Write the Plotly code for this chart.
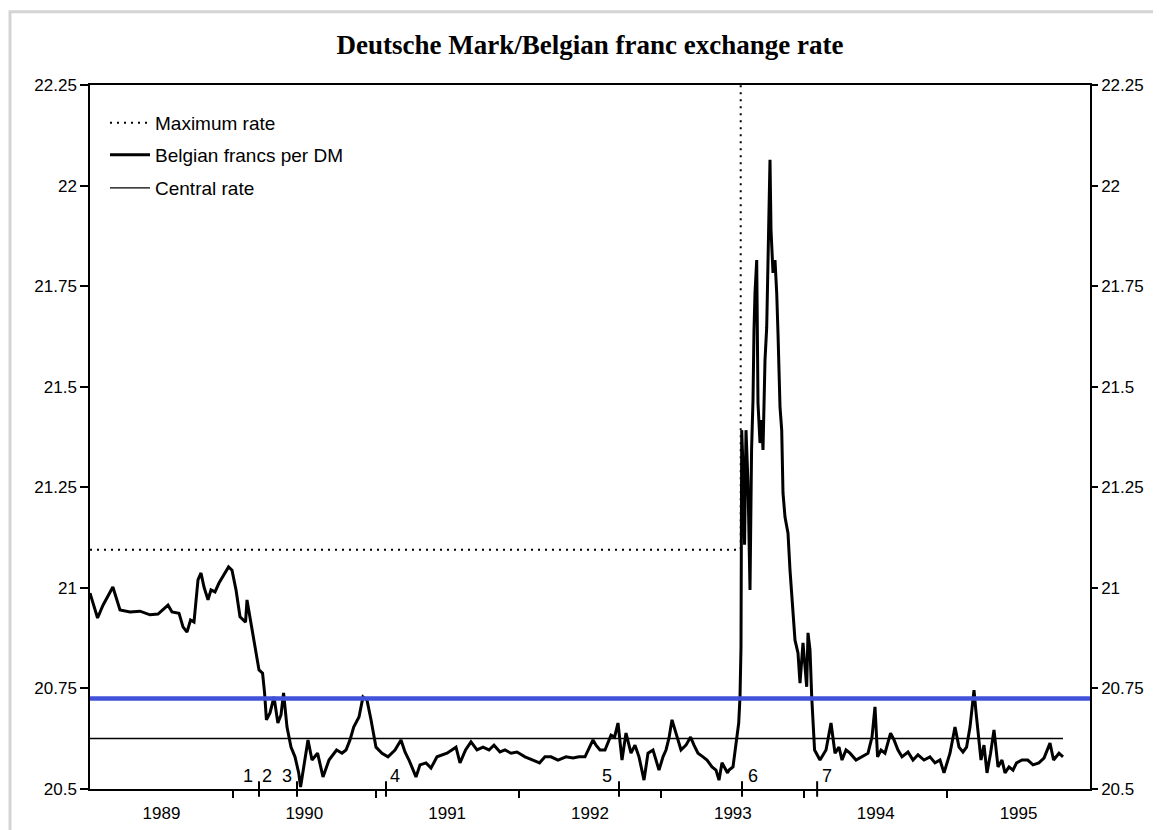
import plotly.graph_objects as go

# ---------------- data ----------------
TITLE = "Deutsche Mark/Belgian franc exchange rate"

date = [
    1989.000, 1989.053, 1989.091, 1989.160, 1989.210, 1989.280, 1989.350, 1989.385, 1989.420, 1989.476,
    1989.546, 1989.574, 1989.623, 1989.651, 1989.679, 1989.704, 1989.728, 1989.756, 1989.777, 1989.798,
    1989.826, 1989.847, 1989.875, 1989.903, 1989.938, 1989.970, 1989.994, 1990.022, 1990.050, 1990.089,
    1990.099, 1990.127, 1990.155, 1990.183, 1990.208, 1990.222, 1990.235, 1990.260, 1990.288, 1990.315,
    1990.337, 1990.355, 1990.379, 1990.407, 1990.435, 1990.461, 1990.474, 1990.498, 1990.526, 1990.554,
    1990.593, 1990.631, 1990.673, 1990.726, 1990.764, 1990.792, 1990.820, 1990.846, 1990.883, 1990.911,
    1990.939, 1990.967, 1991.002, 1991.044, 1991.086, 1991.135, 1991.177, 1991.205, 1991.233, 1991.282,
    1991.310, 1991.352, 1991.387, 1991.429, 1991.499, 1991.562, 1991.590, 1991.629, 1991.667, 1991.709,
    1991.751, 1991.793, 1991.828, 1991.870, 1991.905, 1991.947, 1991.989, 1992.045, 1992.094, 1992.147,
    1992.185, 1992.227, 1992.276, 1992.332, 1992.381, 1992.423, 1992.465, 1992.500, 1992.521, 1992.542,
    1992.570, 1992.605, 1992.647, 1992.672, 1992.696, 1992.724, 1992.752, 1992.787, 1992.815, 1992.843,
    1992.878, 1992.906, 1992.941, 1992.983, 1993.011, 1993.032, 1993.053, 1993.074, 1993.102, 1993.137,
    1993.172, 1993.204, 1993.228, 1993.256, 1993.291, 1993.319, 1993.354, 1993.382, 1993.403, 1993.424,
    1993.463, 1993.473, 1993.501, 1993.515, 1993.541, 1993.550, 1993.557, 1993.562, 1993.571, 1993.582,
    1993.592, 1993.606, 1993.620, 1993.631, 1993.641, 1993.648, 1993.655, 1993.667, 1993.673, 1993.676,
    1993.690, 1993.702, 1993.711, 1993.725, 1993.737, 1993.746, 1993.753, 1993.760, 1993.767, 1993.772,
    1993.781, 1993.795, 1993.807, 1993.816, 1993.830, 1993.842, 1993.851, 1993.865, 1993.886, 1993.900,
    1993.921, 1993.935, 1993.956, 1993.970, 1993.991, 1994.017, 1994.026, 1994.040, 1994.052, 1994.061,
    1994.072, 1994.110, 1994.152, 1994.187, 1994.215, 1994.243, 1994.264, 1994.292, 1994.320, 1994.362,
    1994.397, 1994.446, 1994.474, 1994.495, 1994.513, 1994.537, 1994.565, 1994.604, 1994.628, 1994.656,
    1994.684, 1994.726, 1994.761, 1994.796, 1994.838, 1994.880, 1994.915, 1994.950, 1994.978, 1995.020,
    1995.055, 1995.083, 1995.111, 1995.136, 1995.160, 1995.174, 1995.188, 1995.202, 1995.213, 1995.237,
    1995.258, 1995.279, 1995.304, 1995.328, 1995.356, 1995.384, 1995.405, 1995.433, 1995.461, 1995.486,
    1995.524, 1995.564, 1995.601, 1995.642, 1995.678, 1995.720, 1995.745, 1995.783, 1995.811,
]

bef_per_dm = [
    20.987, 20.925, 20.957, 21.002, 20.945, 20.940, 20.942, 20.937, 20.933, 20.935,
    20.957, 20.940, 20.937, 20.903, 20.890, 20.920, 20.915, 21.020, 21.037, 21.002,
    20.970, 20.995, 20.990, 21.012, 21.032, 21.052, 21.044, 20.995, 20.928, 20.915,
    20.970, 20.913, 20.846, 20.796, 20.788, 20.739, 20.672, 20.689, 20.729, 20.664,
    20.684, 20.739, 20.654, 20.604, 20.580, 20.540, 20.505, 20.555, 20.622, 20.572,
    20.589, 20.530, 20.572, 20.597, 20.589, 20.597, 20.622, 20.654, 20.679, 20.729,
    20.721, 20.672, 20.604, 20.589, 20.580, 20.597, 20.622, 20.592, 20.572, 20.530,
    20.560, 20.565, 20.552, 20.580, 20.589, 20.604, 20.565, 20.597, 20.617, 20.597,
    20.604, 20.597, 20.609, 20.592, 20.597, 20.589, 20.592, 20.580, 20.572, 20.565,
    20.580, 20.580, 20.572, 20.580, 20.577, 20.580, 20.580, 20.604, 20.622, 20.609,
    20.597, 20.597, 20.634, 20.629, 20.664, 20.572, 20.639, 20.589, 20.609, 20.580,
    20.522, 20.589, 20.597, 20.547, 20.580, 20.597, 20.627, 20.672, 20.639, 20.597,
    20.609, 20.629, 20.609, 20.589, 20.580, 20.572, 20.555, 20.547, 20.522, 20.565,
    20.540, 20.547, 20.555, 20.589, 20.664, 20.729, 20.853, 21.392, 21.300, 21.107,
    21.392, 21.261, 20.995, 21.343, 21.467, 21.641, 21.733, 21.815, 21.591, 21.459,
    21.360, 21.417, 21.343, 21.566, 21.648, 21.840, 21.989, 22.064, 21.890, 21.847,
    21.783, 21.815, 21.733, 21.633, 21.450, 21.392, 21.236, 21.176, 21.136, 21.044,
    20.952, 20.870, 20.838, 20.763, 20.863, 20.754, 20.888, 20.846, 20.729, 20.672,
    20.597, 20.572, 20.597, 20.664, 20.589, 20.604, 20.572, 20.597, 20.589, 20.572,
    20.580, 20.589, 20.629, 20.704, 20.580, 20.597, 20.589, 20.639, 20.622, 20.597,
    20.580, 20.592, 20.572, 20.585, 20.572, 20.580, 20.565, 20.572, 20.540, 20.589,
    20.654, 20.604, 20.592, 20.604, 20.654, 20.704, 20.746, 20.691, 20.654, 20.572,
    20.609, 20.540, 20.589, 20.647, 20.555, 20.572, 20.540, 20.555, 20.547, 20.565,
    20.572, 20.572, 20.560, 20.565, 20.577, 20.614, 20.572, 20.589, 20.580,
]

central_rate = 20.6255
central_span = [1989.0, 1995.811]

max_rate = 21.095
max_rate_end = 1993.555         # band widened: dotted line turns upward here
axis_top = 22.25

blue_level = 20.725
blue_span = [1989.0, 1996.0]

event_labels = ["1", "2", "3", "4", "5", "6", "7"]
event_label_x = [1990.106, 1990.239, 1990.378, 1991.135, 1992.619, 1993.641, 1994.159]
event_tick_x = [1990.183, 1990.449, 1991.072, 1992.703, 1993.564, 1994.090]
event_label_y = 20.533

year_labels = ["1989", "1990", "1991", "1992", "1993", "1994", "1995"]
year_mid = [1989.5, 1990.5, 1991.5, 1992.5, 1993.5, 1994.5, 1995.5]
year_bounds = [1990, 1991, 1992, 1993, 1994, 1995]

y_ticks = [20.5, 20.75, 21.0, 21.25, 21.5, 21.75, 22.0, 22.25]
y_ticktext = ["20.5", "20.75", "21", "21.25", "21.5", "21.75", "22", "22.25"]

# ---------------- figure ----------------
SANS = "Liberation Sans, Arial, Helvetica, sans-serif"
SERIF = "Liberation Serif, Times New Roman, serif"

W, H = 1145, 822          # page body has an 8px margin
ML, MT = 82, 77
PW, PH = 1000, 704

fig = go.Figure()

fig.add_trace(go.Scatter(
    x=[central_span[0], max_rate_end, max_rate_end],
    y=[max_rate, max_rate, axis_top],
    mode="lines", name="Maximum rate",
    line=dict(color="black", width=2, dash="2px,5px"),
    legend="legend", hoverinfo="skip",
))
fig.add_trace(go.Scatter(
    x=date, y=bef_per_dm, mode="lines", name="Belgian francs per DM",
    line=dict(color="black", width=3), legend="legend2",
))
fig.add_trace(go.Scatter(
    x=central_span, y=[central_rate, central_rate], mode="lines", name="Central rate",
    line=dict(color="black", width=1.4), legend="legend3", hoverinfo="skip",
))
fig.add_trace(go.Scatter(
    x=blue_span, y=[blue_level, blue_level], mode="lines", showlegend=False,
    line=dict(color="#4152d8", width=4.5), xaxis="x2", yaxis="y2", hoverinfo="skip",
))

# event marker ticks crossing the bottom axis
for tx in event_tick_x:
    fig.add_shape(type="line", xref="x", yref="paper", x0=tx, x1=tx, y0=-0.011, y1=0.011,
                  line=dict(color="black", width=2))

for lab, lx in zip(event_labels, event_label_x):
    fig.add_annotation(x=lx, y=event_label_y, xref="x", yref="y", text=lab, showarrow=False,
                       font=dict(family=SANS, size=18, color="black"))

# soft frame of the page
fig.add_shape(type="rect", xref="paper", yref="paper", x0=-0.08, x1=1.068, y0=-0.12, y1=1.104,
              line=dict(color="#d4d4d4", width=3), layer="below")

legend_common = dict(xanchor="left", yanchor="middle", bgcolor="rgba(0,0,0,0)",
                     font=dict(family=SANS, size=19, color="black"), itemwidth=40)

fig.update_layout(
    width=W, height=H, autosize=False,
    margin=dict(l=ML, r=W - ML - PW, t=MT, b=H - MT - PH, autoexpand=False),
    paper_bgcolor="white", plot_bgcolor="white",
    title=dict(text="<b>" + TITLE + "</b>", x=0.5, xref="paper", xanchor="center",
               y=1 - 37 / H, yref="container", yanchor="middle",
               font=dict(family=SERIF, size=27, color="black")),
    xaxis=dict(range=[1989, 1996], tickvals=year_bounds, showticklabels=False,
               ticks="outside", ticklen=7, tickwidth=1.5, tickcolor="black",
               showline=True, linecolor="black", linewidth=1.5, mirror=True,
               showgrid=False, zeroline=False, automargin=False),
    xaxis2=dict(range=[1989, 1996], overlaying="x", anchor="y", side="bottom",
                tickvals=year_mid, ticktext=year_labels, ticks="", ticklen=0,
                ticklabelstandoff=12, automargin=False,
                tickfont=dict(family=SANS, size=17, color="black"),
                showline=False, showgrid=False, zeroline=False),
    yaxis=dict(range=[20.5, 22.25], tickvals=y_ticks, ticktext=y_ticktext,
               ticks="outside", ticklen=8, tickwidth=1.5, tickcolor="black",
               showline=True, linecolor="black", linewidth=1.5, mirror=True,
               tickfont=dict(family=SANS, size=17, color="black"),
               showgrid=False, zeroline=False, automargin=False),
    yaxis2=dict(range=[20.5, 22.25], overlaying="y", side="right", anchor="x",
                tickvals=y_ticks, ticktext=y_ticktext,
                ticks="outside", ticklen=6, tickwidth=1.5, tickcolor="black",
                showline=True, linecolor="black", linewidth=1.5, automargin=False,
                tickfont=dict(family=SANS, size=17, color="black"),
                showgrid=False, zeroline=False),
    legend=dict(x=0.015, y=(PH - (123 - 8 - MT)) / PH, **legend_common),
    legend2=dict(x=0.015, y=(PH - (155 - 8 - MT)) / PH, **legend_common),
    legend3=dict(x=0.015, y=(PH - (188 - 8 - MT)) / PH, **legend_common),
    showlegend=True,
)

fig.write_html("out.html")
